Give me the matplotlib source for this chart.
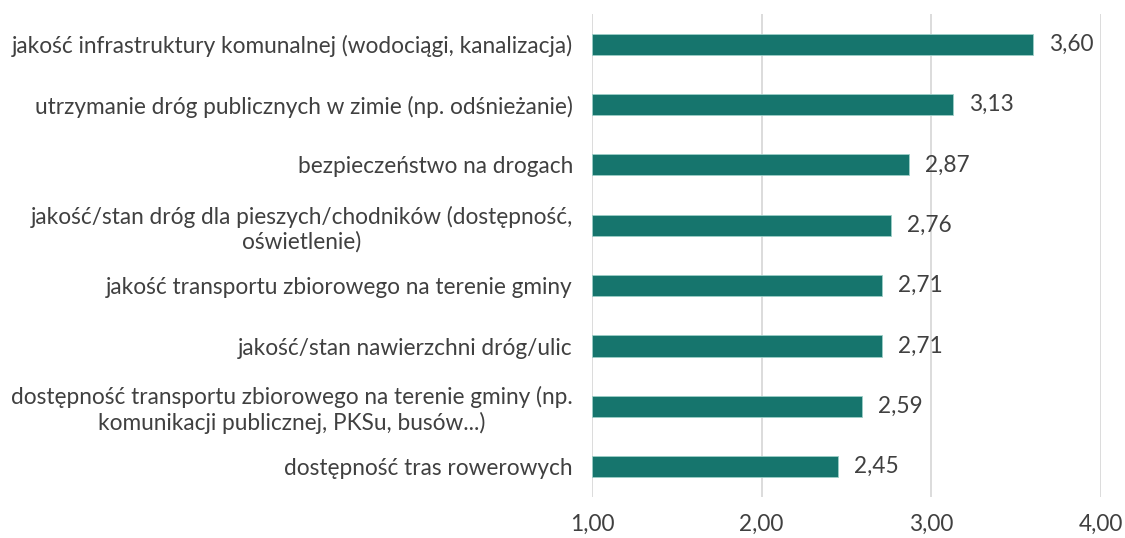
import matplotlib
matplotlib.use("Agg")
import matplotlib.pyplot as plt

categories = [
    "jakość infrastruktury komunalnej (wodociągi, kanalizacja)",
    "utrzymanie dróg publicznych w zimie (np. odśnieżanie)",
    "bezpieczeństwo na drogach",
    "jakość/stan dróg dla pieszych/chodników (dostępność,\noświetlenie)",
    "jakość transportu zbiorowego na terenie gminy",
    "jakość/stan nawierzchni dróg/ulic",
    "dostępność transportu zbiorowego na terenie gminy (np.\nkomunikacji publicznej, PKSu, busów...)",
    "dostępność tras rowerowych",
]
values = [3.60, 3.13, 2.87, 2.76, 2.71, 2.71, 2.59, 2.45]
xticks = [1.0, 2.0, 3.0, 4.0]

plt.rcParams['font.family'] = ['Lato', 'DejaVu Sans']
text_color = '#404040'
bar_color = '#16756D'
fs = 16.3

fig = plt.figure(figsize=(11.25, 5.38), dpi=100)
ax = fig.add_axes([0.5262, 0.0762, 0.9787 - 0.5262, 0.974 - 0.0762])

ypos = list(range(len(categories)))
ax.barh(ypos, [v - 1.0 for v in values], left=1.0, height=0.35,
        color=bar_color, edgecolor='#9ccfc8', linewidth=0.6, zorder=3)
ax.set_xlim(1.0, 4.0)
ax.set_ylim(len(categories) - 0.5, -0.5)
ax.set_xticks(xticks)
ax.set_xticklabels([f"{t:.2f}".replace('.', ',') for t in xticks],
                   fontsize=fs, color=text_color)
ax.set_yticks(ypos)
ax.set_yticklabels(categories, fontsize=fs, color=text_color, multialignment='center')
ax.tick_params(axis='both', length=0)
ax.tick_params(axis='y', pad=13.7)
ax.tick_params(axis='x', pad=12)
ax.grid(axis='x', color='#D9D9D9', linewidth=1.3, zorder=0)
for s in ax.spines.values():
    s.set_visible(False)

for y, v in zip(ypos, values):
    ax.annotate(f"{v:.2f}".replace('.', ','), xy=(v, y), xytext=(16, 0),
                textcoords='offset pixels',
                va='center', ha='left', fontsize=fs, color=text_color)

fig.savefig("out.png", dpi=100)
